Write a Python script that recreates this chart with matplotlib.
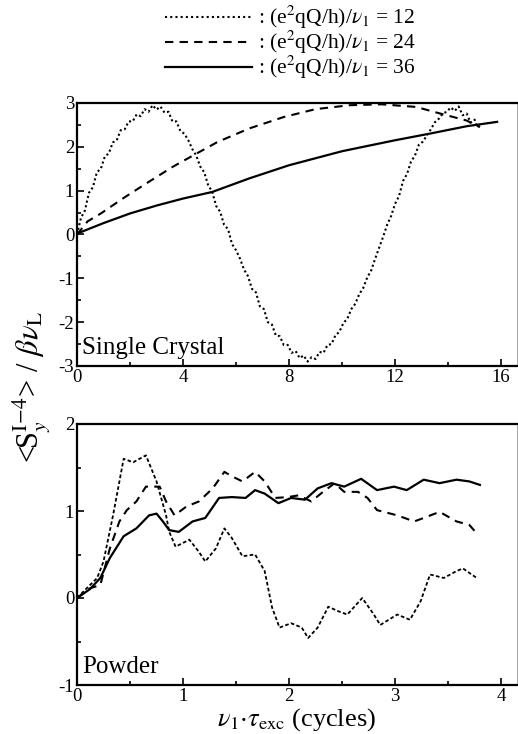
import matplotlib
matplotlib.use("Agg")
import matplotlib.pyplot as plt
from matplotlib.lines import Line2D
from matplotlib.ticker import MultipleLocator, FuncFormatter

plt.rcParams['font.family'] = ['Liberation Serif', 'DejaVu Serif']
plt.rcParams['mathtext.fontset'] = 'stix'

# ---------------- data: Single Crystal ----------------
sc12_x = [0, 0.15, 0.3, 0.45, 0.6, 0.75, 0.9, 1.05, 1.2, 1.35, 1.5, 1.65, 1.8, 1.95, 2.1, 2.25,
          2.4, 2.55, 2.7, 2.85, 3.0, 3.15, 3.3, 3.45, 3.6, 3.75, 3.9, 4.05, 4.2, 4.35, 4.5,
          4.65, 4.8, 4.95, 5.1, 5.25, 5.4, 5.55, 5.7, 5.85, 6.0, 6.15, 6.3, 6.45, 6.6, 6.75,
          6.9, 7.05, 7.2, 7.35, 7.5, 7.65, 7.8, 7.95, 8.1, 8.25, 8.4, 8.55, 8.7, 8.85, 9.0,
          9.15, 9.3, 9.45, 9.6, 9.75, 9.9, 10.05, 10.2, 10.35, 10.5, 10.65, 10.8, 10.95, 11.1,
          11.25, 11.4, 11.55, 11.7, 11.85, 12.0, 12.15, 12.3, 12.45, 12.6, 12.75, 12.9, 13.05,
          13.2, 13.35, 13.5, 13.65, 13.8, 13.95, 14.1, 14.25, 14.4, 14.55, 14.7, 14.85, 15.0,
          15.1, 15.2]
sc12_y = [0.0, 0.38, 0.55, 0.95, 1.08, 1.42, 1.50, 1.78, 1.85, 2.10, 2.15, 2.38, 2.40, 2.58,
          2.58, 2.74, 2.70, 2.86, 2.80, 2.95, 2.85, 2.92, 2.78, 2.80, 2.58, 2.58, 2.36, 2.30,
          2.15, 1.95, 1.80, 1.55, 1.42, 1.12, 0.98, 0.65, 0.52, 0.22, 0.12, -0.22, -0.36,
          -0.55, -0.80, -0.95, -1.24, -1.32, -1.64, -1.70, -2.00, -2.05, -2.30, -2.32, -2.52,
          -2.52, -2.70, -2.66, -2.82, -2.76, -2.90, -2.80, -2.84, -2.68, -2.70, -2.52, -2.50,
          -2.30, -2.22, -2.02, -1.92, -1.70, -1.58, -1.36, -1.22, -0.98, -0.82, -0.55, -0.30,
          -0.05, 0.22, 0.42, 0.70, 0.88, 1.22, 1.38, 1.66, 1.80, 2.05, 2.12, 2.26, 2.40, 2.56,
          2.64, 2.76, 2.80, 2.90, 2.82, 2.92, 2.72, 2.76, 2.55, 2.62, 2.45, 2.48]

sc24_x = [0, 0.4, 0.9, 1.8, 2.6, 3.6, 4.4, 5.3, 6.5, 7.8, 9.0, 10.3, 11.5, 12.8, 13.7, 14.7, 15.2]
sc24_y = [0.0, 0.30, 0.48, 0.85, 1.16, 1.54, 1.81, 2.11, 2.42, 2.68, 2.86, 2.95, 2.97, 2.91,
          2.76, 2.60, 2.45]

sc36_x = [0, 1.0, 2.0, 3.0, 4.0, 5.1, 6.5, 8.0, 10.0, 12.0, 13.3, 14.7, 15.85]
sc36_y = [0.02, 0.26, 0.48, 0.66, 0.82, 0.97, 1.28, 1.58, 1.90, 2.15, 2.30, 2.47, 2.57]

# ---------------- data: Powder ----------------
pw12_x = [0, 0.09, 0.19, 0.25, 0.34, 0.44, 0.53, 0.65, 0.75, 0.84, 0.87, 0.93, 1.06, 1.15,
          1.21, 1.31, 1.39, 1.46, 1.56, 1.68, 1.77, 1.84, 1.91, 2.02, 2.12, 2.18, 2.27, 2.37,
          2.46, 2.55, 2.69, 2.80, 2.86, 3.02, 3.14, 3.24, 3.33, 3.46, 3.58, 3.64, 3.77]
pw12_y = [0.0, 0.11, 0.23, 0.42, 0.95, 1.60, 1.56, 1.64, 1.34, 0.95, 0.76, 0.59, 0.67, 0.53,
          0.42, 0.57, 0.80, 0.69, 0.48, 0.50, 0.31, -0.11, -0.34, -0.29, -0.34, -0.46, -0.34,
          -0.10, -0.15, -0.19, 0.00, -0.19, -0.31, -0.19, -0.25, -0.04, 0.27, 0.23, 0.31,
          0.34, 0.23]

pw24_x = [0, 0.12, 0.22, 0.31, 0.40, 0.47, 0.56, 0.65, 0.78, 0.84, 0.92, 1.03, 1.15, 1.28,
          1.39, 1.46, 1.56, 1.68, 1.77, 1.87, 1.99, 2.09, 2.21, 2.30, 2.43, 2.52, 2.65, 2.74,
          2.83, 3.02, 3.18, 3.27, 3.42, 3.58, 3.70, 3.78]
pw24_y = [0.0, 0.11, 0.15, 0.57, 0.88, 1.01, 1.11, 1.28, 1.28, 1.11, 0.95, 1.05, 1.11, 1.26,
          1.45, 1.40, 1.34, 1.45, 1.34, 1.15, 1.16, 1.18, 1.11, 1.20, 1.32, 1.22, 1.22, 1.15,
          1.01, 0.95, 0.88, 0.92, 0.99, 0.88, 0.84, 0.73]

pw36_x = [0, 0.12, 0.22, 0.31, 0.44, 0.56, 0.68, 0.75, 0.81, 0.87, 0.96, 1.09, 1.21, 1.34,
          1.46, 1.59, 1.68, 1.77, 1.90, 2.02, 2.15, 2.27, 2.40, 2.52, 2.68, 2.83, 2.99, 3.11,
          3.27, 3.42, 3.58, 3.70, 3.80]
pw36_y = [0.0, 0.10, 0.23, 0.46, 0.71, 0.80, 0.95, 0.97, 0.88, 0.78, 0.76, 0.88, 0.92, 1.15,
          1.16, 1.15, 1.24, 1.20, 1.09, 1.15, 1.13, 1.26, 1.32, 1.28, 1.37, 1.24, 1.28, 1.24,
          1.36, 1.32, 1.36, 1.34, 1.30]

legend_labels = [r": (e$^2$qQ/h)/$\nu_1$ = 12", r": (e$^2$qQ/h)/$\nu_1$ = 24",
                 r": (e$^2$qQ/h)/$\nu_1$ = 36"]

# ---------------- figure ----------------
W, H = 518, 734
fig = plt.figure(figsize=(W / 100, H / 100), dpi=100)

def axrect(l, t, r, b):
    return [l / W, 1 - b / H, (r - l) / W, (b - t) / H]

ax1 = fig.add_axes(axrect(77, 103, 517, 366))
ax2 = fig.add_axes(axrect(77, 424, 517, 685))

dot_style = dict(color='black', lw=1.5, linestyle=(0, (1, 1.3)))
dash_style = dict(color='black', lw=1.5, linestyle=(0, (4, 3)))
solid_style = dict(color='black', lw=1.6, linestyle='-')

ax1.plot(sc12_x, sc12_y, **dot_style)
ax1.plot(sc24_x, sc24_y, **dash_style)
ax1.plot(sc36_x, sc36_y, **solid_style)

ax2.plot(pw12_x, pw12_y, color='black', lw=1.3, linestyle=(0, (2, 1.3)))
ax2.plot(pw24_x, pw24_y, **dash_style)
ax2.plot(pw36_x, pw36_y, **solid_style)

def fmt(v, pos):
    if abs(v - round(v)) > 1e-6:
        return ''
    v = int(round(v))
    return f"-{abs(v)}" if v < 0 else f"{v}"

for ax, xl, yl, xmaj, ymaj in [(ax1, (0, 16.6), (-3, 3), 4, 1), (ax2, (0, 4.15), (-1, 2), 1, 1)]:
    ax.set_xlim(*xl)
    ax.set_ylim(*yl)
    ax.xaxis.set_major_locator(MultipleLocator(xmaj))
    ax.xaxis.set_minor_locator(MultipleLocator(xmaj / 2))
    ax.yaxis.set_major_locator(MultipleLocator(ymaj))
    ax.yaxis.set_minor_locator(MultipleLocator(ymaj / 2))
    ax.yaxis.set_major_formatter(FuncFormatter(fmt))
    ax.tick_params(which='both', direction='in', labelsize=13.5, width=1.2, pad=2)
    ax.tick_params(which='major', length=5)
    ax.tick_params(which='minor', length=3)
    for s in ['left', 'bottom', 'top']:
        ax.spines[s].set_linewidth(1.6)
    ax.spines['right'].set_linewidth(0.6)
    ax.spines['right'].set_color('#999999')

ax1.text(0.012, 0.025, "Single Crystal", transform=ax1.transAxes, fontsize=18,
         ha='left', va='bottom')
ax2.text(0.012, 0.025, "Powder", transform=ax2.transAxes, fontsize=18,
         ha='left', va='bottom')

fig.text(296 / W, 1 - 733 / H, r"$\nu_1$$\cdot$$\tau_{\rm exc}$ (cycles)", fontsize=19,
         ha='center', va='bottom')
fig.text(32 / W, 1 - 387 / H, r"<S$_y^{\rm I\!-\!4}$> / $\beta\nu_{\rm L}$", rotation=90,
         fontsize=22, ha='center', va='center')

# legend drawn manually at the top
line_styles = [dict(color='black', lw=1.5, linestyle=(0, (1, 1.5))),
               dict(color='black', lw=1.5, linestyle=(0, (4, 3))),
               dict(color='black', lw=1.6, linestyle='-')]
row_y = [17, 42, 67]
for ry, lab, st in zip(row_y, legend_labels, line_styles):
    yf = 1 - ry / H
    fig.add_artist(Line2D([165 / W, 252 / W], [yf, yf], transform=fig.transFigure, **st))
    fig.text(258 / W, yf, lab, fontsize=15.5, ha='left', va='center')

fig.savefig("out.png", dpi=100)
